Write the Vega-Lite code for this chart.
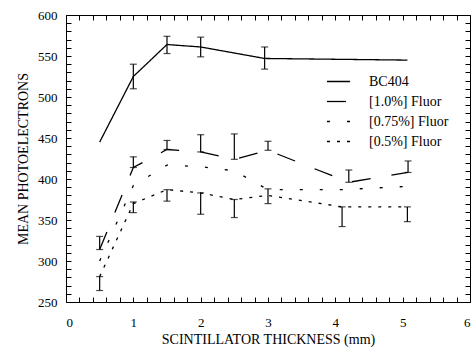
{
  "$schema": "https://vega.github.io/schema/vega-lite/v6.json",
  "width": 404,
  "height": 287,
  "autosize": {"type": "none"},
  "padding": {"left": 66, "top": 15, "right": 6, "bottom": 49},
  "background": "white",
  "datasets": {
    "pts": [
      {"series": "BC404", "x": 0.5, "y": 445},
      {"series": "BC404", "x": 1.0, "y": 525},
      {"series": "BC404", "x": 1.5, "y": 564},
      {"series": "BC404", "x": 2.0, "y": 561},
      {"series": "BC404", "x": 2.95, "y": 547},
      {"series": "BC404", "x": 5.07, "y": 545},
      {"series": "[1.0%] Fluor", "x": 0.5, "y": 314},
      {"series": "[1.0%] Fluor", "x": 1.0, "y": 414},
      {"series": "[1.0%] Fluor", "x": 1.5, "y": 436},
      {"series": "[1.0%] Fluor", "x": 2.0, "y": 433},
      {"series": "[1.0%] Fluor", "x": 2.5, "y": 424},
      {"series": "[1.0%] Fluor", "x": 3.0, "y": 435},
      {"series": "[1.0%] Fluor", "x": 4.2, "y": 396},
      {"series": "[1.0%] Fluor", "x": 5.08, "y": 408},
      {"series": "[0.75%] Fluor", "x": 0.5, "y": 300},
      {"series": "[0.75%] Fluor", "x": 1.0, "y": 392},
      {"series": "[0.75%] Fluor", "x": 1.5, "y": 417},
      {"series": "[0.75%] Fluor", "x": 2.0, "y": 415},
      {"series": "[0.75%] Fluor", "x": 2.5, "y": 410},
      {"series": "[0.75%] Fluor", "x": 3.0, "y": 387},
      {"series": "[0.75%] Fluor", "x": 4.1, "y": 387},
      {"series": "[0.75%] Fluor", "x": 5.07, "y": 391},
      {"series": "[0.5%] Fluor", "x": 0.5, "y": 281},
      {"series": "[0.5%] Fluor", "x": 1.0, "y": 370},
      {"series": "[0.5%] Fluor", "x": 1.5, "y": 387},
      {"series": "[0.5%] Fluor", "x": 2.0, "y": 383},
      {"series": "[0.5%] Fluor", "x": 2.5, "y": 375},
      {"series": "[0.5%] Fluor", "x": 3.0, "y": 380},
      {"series": "[0.5%] Fluor", "x": 4.1, "y": 366},
      {"series": "[0.5%] Fluor", "x": 5.07, "y": 366}
    ],
    "errs": [
      {"series": "BC404", "x": 1.0, "lo": 510, "hi": 540},
      {"series": "BC404", "x": 1.5, "lo": 553, "hi": 574},
      {"series": "BC404", "x": 2.0, "lo": 549, "hi": 573},
      {"series": "BC404", "x": 2.95, "lo": 534, "hi": 561},
      {"series": "[1.0%] Fluor", "x": 0.5, "lo": 314, "hi": 330},
      {"series": "[1.0%] Fluor", "x": 1.0, "lo": 414, "hi": 427},
      {"series": "[1.0%] Fluor", "x": 1.5, "lo": 436, "hi": 447},
      {"series": "[1.0%] Fluor", "x": 2.0, "lo": 433, "hi": 454},
      {"series": "[1.0%] Fluor", "x": 2.5, "lo": 424, "hi": 455},
      {"series": "[1.0%] Fluor", "x": 3.0, "lo": 435, "hi": 446},
      {"series": "[1.0%] Fluor", "x": 4.2, "lo": 396, "hi": 411},
      {"series": "[1.0%] Fluor", "x": 5.08, "lo": 408, "hi": 422},
      {"series": "[0.5%] Fluor", "x": 0.5, "lo": 264, "hi": 281},
      {"series": "[0.5%] Fluor", "x": 1.0, "lo": 359, "hi": 372},
      {"series": "[0.5%] Fluor", "x": 1.5, "lo": 373, "hi": 387},
      {"series": "[0.5%] Fluor", "x": 2.0, "lo": 357, "hi": 383},
      {"series": "[0.5%] Fluor", "x": 2.5, "lo": 353, "hi": 375},
      {"series": "[0.5%] Fluor", "x": 3.0, "lo": 370, "hi": 388},
      {"series": "[0.5%] Fluor", "x": 4.1, "lo": 342, "hi": 366},
      {"series": "[0.5%] Fluor", "x": 5.07, "lo": 348, "hi": 366}
    ]
  },
  "resolve": {"axis": {"x": "independent", "y": "independent"}},
  "layer": [
    {
      "data": {"name": "pts"},
      "mark": {"type": "line", "color": "black", "strokeWidth": 1.3},
      "encoding": {
        "x": {
          "field": "x", "type": "quantitative",
          "scale": {"domain": [0, 6], "nice": false, "zero": false},
          "axis": {
            "orient": "bottom",
            "title": "SCINTILLATOR THICKNESS (mm)",
            "values": [0,0.2,0.4,0.6,0.8,1,1.2,1.4,1.6,1.8,2,2.2,2.4,2.6,2.8,3,3.2,3.4,3.6,3.8,4,4.2,4.4,4.6,4.8,5,5.2,5.4,5.6,5.8,6],
            "labelExpr": "datum.value % 1 === 0 ? format(datum.value, 'd') : ''",
            "labelOverlap": false,
            "ticks": true,
            "tickSize": -5,
            "labelPadding": 19,
            "titlePadding": 3
          }
        },
        "y": {
          "field": "y", "type": "quantitative",
          "scale": {"domain": [250, 600], "nice": false, "zero": false},
          "axis": {
            "orient": "left",
            "title": "MEAN PHOTOELECTRONS",
            "values": [250,260,270,280,290,300,310,320,330,340,350,360,370,380,390,400,410,420,430,440,450,460,470,480,490,500,510,520,530,540,550,560,570,580,590,600],
            "labelExpr": "datum.value % 50 === 0 ? datum.label : ''",
            "labelOverlap": false,
            "ticks": true,
            "tickSize": -5,
            "labelPadding": 14,
            "titlePadding": 7
          }
        },
        "strokeDash": {
          "field": "series", "type": "nominal",
          "scale": {
            "domain": ["BC404", "[1.0%] Fluor", "[0.75%] Fluor", "[0.5%] Fluor"],
            "range": [[1, 0], [19, 21], [3, 17], [3, 7]]
          },
          "legend": {
            "title": null,
            "orient": "none",
            "legendX": 260,
            "legendY": 54,
            "symbolType": "stroke",
            "symbolSize": 529,
            "symbolStrokeWidth": 1.3,
            "symbolStrokeColor": "black",
            "labelFont": "Liberation Serif",
            "labelFontSize": 14,
            "labelColor": "black",
            "labelOffset": 18,
            "rowPadding": -10,
            "labelLimit": 200
          }
        }
      }
    },
    {
      "data": {"name": "errs"},
      "mark": {"type": "rule", "color": "black", "strokeWidth": 1.2},
      "encoding": {
        "x": {
          "field": "x", "type": "quantitative",
          "scale": {"domain": [0, 6], "nice": false, "zero": false},
          "axis": {
            "orient": "top",
            "title": null,
            "values": [0,0.2,0.4,0.6,0.8,1,1.2,1.4,1.6,1.8,2,2.2,2.4,2.6,2.8,3,3.2,3.4,3.6,3.8,4,4.2,4.4,4.6,4.8,5,5.2,5.4,5.6,5.8,6],
            "labelExpr": "''",
            "labelOverlap": false,
            "ticks": true,
            "tickSize": -5
          }
        },
        "y": {
          "field": "lo", "type": "quantitative",
          "scale": {"domain": [250, 600], "nice": false, "zero": false},
          "axis": {
            "orient": "right",
            "title": null,
            "values": [250,260,270,280,290,300,310,320,330,340,350,360,370,380,390,400,410,420,430,440,450,460,470,480,490,500,510,520,530,540,550,560,570,580,590,600],
            "labelExpr": "''",
            "labelOverlap": false,
            "ticks": true,
            "tickSize": -5
          }
        },
        "y2": {"field": "hi"}
      }
    },
    {
      "data": {"name": "errs"},
      "mark": {"type": "tick", "color": "black", "orient": "horizontal", "size": 7, "thickness": 1.2},
      "encoding": {
        "x": {"field": "x", "type": "quantitative", "scale": {"domain": [0, 6], "nice": false, "zero": false}, "axis": null},
        "y": {"field": "lo", "type": "quantitative", "scale": {"domain": [250, 600], "nice": false, "zero": false}, "axis": null}
      }
    },
    {
      "data": {"name": "errs"},
      "mark": {"type": "tick", "color": "black", "orient": "horizontal", "size": 7, "thickness": 1.2},
      "encoding": {
        "x": {"field": "x", "type": "quantitative", "scale": {"domain": [0, 6], "nice": false, "zero": false}, "axis": null},
        "y": {"field": "hi", "type": "quantitative", "scale": {"domain": [250, 600], "nice": false, "zero": false}, "axis": null}
      }
    }
  ],
  "config": {
    "view": {"stroke": null},
    "axis": {
      "domainColor": "black",
      "domainWidth": 1,
      "tickColor": "black",
      "tickWidth": 1,
      "grid": false,
      "labelFont": "Liberation Serif",
      "labelFontSize": 13,
      "labelColor": "black",
      "titleFont": "Liberation Serif",
      "titleFontSize": 14,
      "titleFontWeight": "normal",
      "titleColor": "black"
    }
  }
}
